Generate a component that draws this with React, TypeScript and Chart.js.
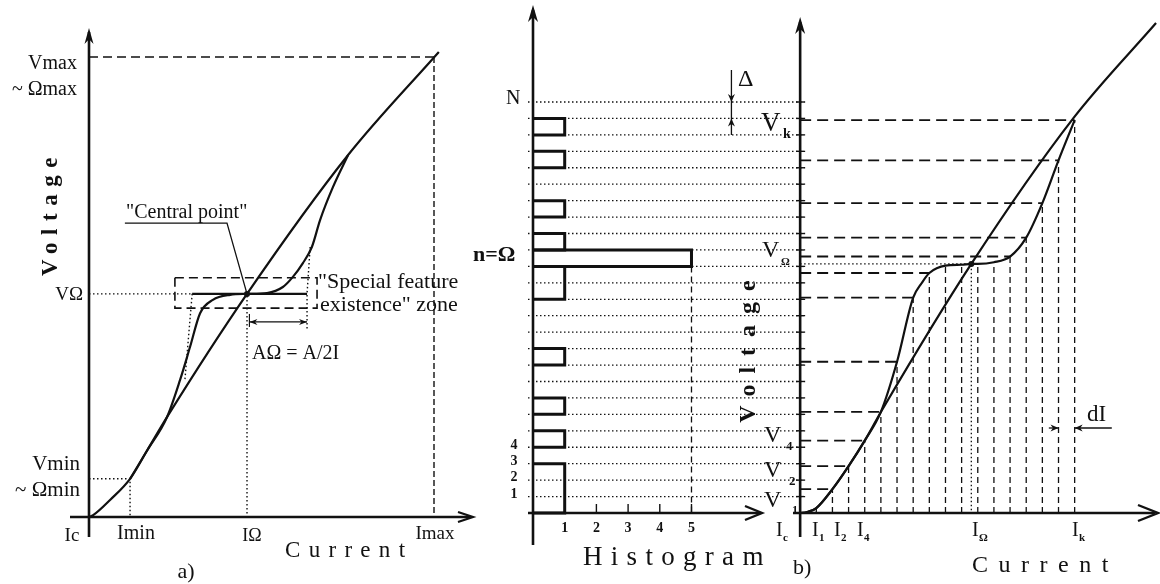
import React, { useEffect, useRef } from "react";
import { Chart, registerables } from "chart.js";

Chart.register(...registerables);

const W = 1160;
const H = 584;
const INK = "#111";
const SERIF = '"Liberation Serif", "Times New Roman", serif';

// ---------------- a) Voltage vs Current ----------------
const aCurveI = [0, 0.12, 0.61, 1.19, 1.68, 2.26, 2.64, 2.93, 3.22, 3.59, 4.09, 4.58, 5.16, 5.62, 5.91, 6.2, 6.46, 6.7, 7.07, 7.51];
const aCurveV = [0, 0.04, 0.37, 0.83, 1.44, 2.17, 2.98, 3.7, 4.43, 4.72, 4.83, 4.85, 4.87, 5.0, 5.22, 5.52, 5.87, 6.46, 7.17, 7.87];
const aLineI = [1.19, 1.68, 2.26, 4.58, 7.51, 10.14];
const aLineV = [0.83, 1.44, 2.17, 4.85, 7.87, 10.11];
const aIOmega = 4.58;
const aVOmega = 4.85;
const aImin = 1.19;
const aVmin = 0.83;
const aImax = 10;
const aVmax = 10;
const aFlatI = [2.99, 6.32];
const aZoneI = [2.49, 6.61];
const aZoneV = [4.54, 5.2];
const aAOmegaI = [4.65, 6.32];
const aAOmegaV = 4.24;
const aLeftTanI = [2.99, 2.78];
const aLeftTanV = [4.85, 2.98];
const aRightTanI = [6.41, 6.32, 6.32];
const aRightTanV = [5.87, 4.85, 4.07];
const aLeaderI = [1.04, 4.0, 4.58];
const aLeaderV = [6.39, 6.39, 4.85];

// ---------------- Histogram ----------------
const histCounts = [1, 1, 1, 0, 1, 0, 1, 0, 0, 1, 0, 0, 0, 1, 1, 5, 1, 0, 1, 0, 0, 1, 0, 1, 0];
const histN = 25;
const histXTicks = ["1", "2", "3", "4", "5"];
const histLevelLabels = ["1", "2", "3", "4"];

// ---------------- b) sampled Voltage vs Current ----------------
const bSampleI = [1, 2, 3, 4, 5, 6, 7, 8, 9, 10, 11, 12, 13, 14, 15, 16, 17];
const bSampleV = [0.3, 1.45, 2.85, 4.4, 6.15, 9.2, 13.1, 14.6, 15.05, 15.1, 15.15, 15.25, 15.6, 16.75, 18.85, 21.45, 23.9];
const bProjected = [2, 3, 4, 5, 6, 7, 8, 13, 14, 15, 16, 17];
const bCurveI = [0, 0.5, 1, 2, 3, 4, 5, 6, 7, 7.53, 8, 9, 10, 10.6, 11, 12, 13, 14, 15, 16, 17];
const bCurveV = [0, 0.08, 0.3, 1.45, 2.85, 4.4, 6.15, 9.2, 13.1, 13.99, 14.6, 15.05, 15.1, 15.15, 15.15, 15.25, 15.6, 16.75, 18.85, 21.45, 23.9];
const bLineI = [0.3, 1, 2, 3, 4, 5, 10.6, 16.91, 22.04];
const bLineV = [0, 0.3, 1.45, 2.85, 4.4, 6.14, 15.15, 24.0, 29.8];
const bIOmega = 10.6;
const bVOmega = 15.15;
const bDeltaX = 6.26;
const bDIV = 5.17;

type P = [number, number];
const zip = (xs: number[], ys: number[]): P[] => xs.map((x, i) => [x, ys[i]] as P);

const ds = (pts: P[], o: any = {}) => ({
  data: pts.map(([x, y]) => ({ x, y })),
  borderColor: INK,
  backgroundColor: INK,
  borderWidth: 1.4,
  pointRadius: 0,
  tension: 0,
  fill: false,
  clip: false,
  ...o,
});

const DOT = [1.5, 2.5];

function txt(ctx: any, s: string, x: number, y: number, size: number, o: any = {}) {
  ctx.save();
  ctx.fillStyle = INK;
  ctx.font = `${o.weight || "normal"} ${size}px ${SERIF}`;
  ctx.textAlign = o.align || "left";
  ctx.textBaseline = o.baseline || "alphabetic";
  if (o.spacing) ctx.letterSpacing = `${o.spacing}px`;
  ctx.translate(x, y);
  if (o.rot) ctx.rotate(o.rot);
  ctx.fillText(s, 0, 0);
  ctx.restore();
}

function chevron(ctx: any, x: number, y: number, ang: number, len: number, half: number, lw = 2.2) {
  ctx.save();
  ctx.translate(x, y);
  ctx.rotate(ang);
  ctx.beginPath();
  ctx.moveTo(-len, -half);
  ctx.lineTo(0, 0);
  ctx.lineTo(-len, half);
  ctx.lineWidth = lw;
  ctx.strokeStyle = INK;
  ctx.setLineDash([]);
  ctx.stroke();
  ctx.restore();
}

function head(ctx: any, x: number, y: number, ang: number, len: number, half: number) {
  ctx.save();
  ctx.translate(x, y);
  ctx.rotate(ang);
  ctx.beginPath();
  ctx.moveTo(0, 0);
  ctx.lineTo(-len, -half);
  ctx.lineTo(-len * 0.7, 0);
  ctx.lineTo(-len, half);
  ctx.closePath();
  ctx.fillStyle = INK;
  ctx.fill();
  ctx.restore();
}

function seg(ctx: any, x1: number, y1: number, x2: number, y2: number, lw: number, dash: number[] = []) {
  ctx.save();
  ctx.beginPath();
  ctx.moveTo(x1, y1);
  ctx.lineTo(x2, y2);
  ctx.lineWidth = lw;
  ctx.strokeStyle = INK;
  ctx.setLineDash(dash);
  ctx.stroke();
  ctx.restore();
}

const UP = -Math.PI / 2;
const DOWN = Math.PI / 2;
const RIGHT = 0;
const LEFT = Math.PI;

const panelAPlugin = {
  id: "panelA",
  afterDraw(chart: any) {
    const ctx = chart.ctx;
    const X = (v: number) => chart.scales.x.getPixelForValue(v);
    const Y = (v: number) => chart.scales.y.getPixelForValue(v);
    const ox = X(0);
    const oy = Y(0);
    // axes
    seg(ctx, ox, oy + 20, ox, 32, 2.6);
    head(ctx, ox, 28, UP, 16, 4.5);
    seg(ctx, 70, oy, 470, oy, 2.6);
    chevron(ctx, 473, oy, RIGHT, 15, 5, 2.2);
    // A-omega arrow heads and tick
    head(ctx, X(aAOmegaI[0]), Y(aAOmegaV), LEFT, 8, 3);
    head(ctx, X(aAOmegaI[1]), Y(aAOmegaV), RIGHT, 8, 3);
    seg(ctx, X(aAOmegaI[0]), Y(aAOmegaV) - 8, X(aAOmegaI[0]), Y(aAOmegaV) + 5, 1.2);

    // labels
    txt(ctx, "Vmax", 77, 69, 20, { align: "right" });
    txt(ctx, "~ \u03A9max", 77, 95, 20, { align: "right" });
    txt(ctx, "Voltage", 57, 213, 23, { weight: "bold", spacing: 7.5, rot: -Math.PI / 2, align: "center" });
    txt(ctx, "V\u03A9", 83, 300, 19, { align: "right" });
    txt(ctx, "Vmin", 80, 470, 21, { align: "right" });
    txt(ctx, "~ \u03A9min", 80, 496, 21, { align: "right" });
    txt(ctx, "Ic", 72, 541, 19, { align: "center" });
    txt(ctx, "Imin", 136, 539, 20, { align: "center" });
    txt(ctx, "I\u03A9", 252, 541, 18, { align: "center" });
    txt(ctx, "Imax", 435, 539, 19, { align: "center" });
    txt(ctx, "Current", 285, 557, 23, { spacing: 8.3 });
    txt(ctx, "a)", 186, 578, 22, { align: "center" });
    txt(ctx, "\"Central point\"", 126, 218, 20);
    txt(ctx, "\"Special feature", 318, 288, 22);
    txt(ctx, "existence\" zone", 320, 311, 22);
    txt(ctx, "A\u03A9 = A/2I", 252, 359, 20);
  },
};

const panelBPlugin = {
  id: "panelB",
  beforeDatasetsDraw(chart: any) {
    const ctx = chart.ctx;
    const X = (v: number) => chart.scales.x.getPixelForValue(v);
    const X2 = (v: number) => chart.scales.x2.getPixelForValue(v);
    const Y = (v: number) => chart.scales.y.getPixelForValue(v);
    // dotted level grid across histogram and panel b
    for (let lev = 1; lev <= histN; lev++) {
      seg(ctx, X(0) - 5, Y(lev), X2(0) + 5, Y(lev), 1.3, DOT);
    }
  },
  afterDraw(chart: any) {
    const ctx = chart.ctx;
    const X = (v: number) => chart.scales.x.getPixelForValue(v);
    const X2 = (v: number) => chart.scales.x2.getPixelForValue(v);
    const Y = (v: number) => chart.scales.y.getPixelForValue(v);
    const hx = X(0);
    const bx = X2(0);
    const oy = Y(0);
    // histogram axes
    seg(ctx, hx, oy + 32, hx, 10, 2.6);
    head(ctx, hx, 5, UP, 17, 5);
    seg(ctx, hx - 5, oy, 760, oy, 2.6);
    chevron(ctx, 762, oy, RIGHT, 17, 7, 2.4);
    for (let k = 2; k <= 5; k++) seg(ctx, X(k), oy - 9, X(k), oy, 1.4);
    // panel b axes
    seg(ctx, bx, oy + 24, bx, 22, 2.6);
    head(ctx, bx, 17, UP, 17, 5);
    seg(ctx, 793, oy, 1155, oy, 2.6);
    chevron(ctx, 1158, oy, RIGHT, 20, 8, 2.4);
    for (let lev = 1; lev <= histN; lev++) seg(ctx, bx - 4, Y(lev), bx + 4, Y(lev), 1.4);

    // delta arrows
    head(ctx, X(bDeltaX), Y(histN), DOWN, 8, 3.5);
    head(ctx, X(bDeltaX), Y(histN - 1), UP, 8, 3.5);
    // dI arrows
    head(ctx, X2(bSampleI[15]), Y(bDIV), RIGHT, 8, 3.5);
    head(ctx, X2(bSampleI[16]), Y(bDIV), LEFT, 8, 3.5);

    // histogram labels
    txt(ctx, "N", 506, 104, 20);
    txt(ctx, "n=\u03A9", 473, 261, 22, { weight: "bold" });
    const lvY = [494, 477, 461, 445];
    histLevelLabels.forEach((s, i) => txt(ctx, s, 514, lvY[i], 14, { weight: "bold", align: "center", baseline: "middle" }));
    histXTicks.forEach((s, i) => txt(ctx, s, X(i + 1), 528, 14, { weight: "bold", align: "center", baseline: "middle" }));
    txt(ctx, "Histogram", 583, 565, 27, { spacing: 8.3 });
    txt(ctx, "\u0394", 738, 86, 24);
    txt(ctx, "b)", 793, 574, 22);

    // panel b labels
    txt(ctx, "Voltage", 755, 346, 24, { weight: "bold", spacing: 11, rot: -Math.PI / 2, align: "center" });
    txt(ctx, "V", 761, 131, 27);
    txt(ctx, "k", 783, 138, 14, { weight: "bold" });
    txt(ctx, "V", 762, 257, 24);
    txt(ctx, "\u03A9", 781, 265, 11, { weight: "bold" });
    txt(ctx, "V", 764, 442, 24);
    txt(ctx, "4", 786, 450, 13, { weight: "bold" });
    txt(ctx, "V", 764, 477, 24);
    txt(ctx, "2", 789, 485, 13, { weight: "bold" });
    txt(ctx, "V", 764, 507, 24);
    txt(ctx, "1", 792, 514, 12, { weight: "bold" });
    const iLab: [string, number, string][] = [
      ["I", 776, "c"],
      ["I", 812, "1"],
      ["I", 834, "2"],
      ["I", 857, "4"],
      ["I", 972, "\u03A9"],
      ["I", 1072, "k"],
    ];
    iLab.forEach(([m, x, s]) => {
      txt(ctx, m, x, 536, 20);
      txt(ctx, s, x + 7, 541, 11, { weight: "bold" });
    });
    txt(ctx, "dI", 1087, 421, 23);
    txt(ctx, "Current", 972, 572, 24, { spacing: 10.5 });
  },
};

export default function App() {
  const refA = useRef<HTMLCanvasElement>(null);
  const refB = useRef<HTMLCanvasElement>(null);

  useEffect(() => {
    const common = {
      responsive: false,
      animation: false,
      devicePixelRatio: 1,
      events: [],
      plugins: { legend: { display: false }, tooltip: { enabled: false } },
    };

    const aDatasets = [
      ds([[0, aVmax], [aImax, aVmax]], { borderDash: [9, 5], borderWidth: 1.6 }),
      ds([[aImax, aVmax], [aImax, 0]], { borderDash: [6, 3], borderWidth: 1.4 }),
      ds([[0, aVOmega], [aIOmega, aVOmega], [aIOmega, 0]], { borderDash: DOT, borderWidth: 1.4 }),
      ds([[0, aVmin], [aImin, aVmin], [aImin, 0]], { borderDash: DOT, borderWidth: 1.4 }),
      ds(zip(aLeftTanI, aLeftTanV), { borderDash: DOT, borderWidth: 1.4 }),
      ds(zip(aRightTanI, aRightTanV), { borderDash: DOT, borderWidth: 1.4 }),
      ds(
        [[aZoneI[0], aZoneV[1]], [aZoneI[1], aZoneV[1]], [aZoneI[1], aZoneV[0]], [aZoneI[0], aZoneV[0]], [aZoneI[0], aZoneV[1]]],
        { borderDash: [9, 5], borderWidth: 1.6 }
      ),
      ds([[aFlatI[0], aVOmega], [aFlatI[1], aVOmega]], { borderWidth: 2.2 }),
      ds([[aAOmegaI[0], aAOmegaV], [aAOmegaI[1], aAOmegaV]], { borderWidth: 1.3 }),
      ds(zip(aLeaderI, aLeaderV), { borderWidth: 1.3 }),
      ds(zip(aCurveI, aCurveV), { borderWidth: 2.2, cubicInterpolationMode: "monotone" }),
      ds(zip(aLineI, aLineV), { borderWidth: 2.2, cubicInterpolationMode: "monotone" }),
      ds([[aIOmega, aVOmega]], { showLine: false, pointRadius: 3, pointBorderWidth: 0 }),
    ];

    const chartA = new Chart(refA.current as HTMLCanvasElement, {
      type: "line",
      data: { datasets: aDatasets as any },
      options: {
        ...common,
        layout: { padding: { left: 89, right: W - 434, top: 57, bottom: H - 517 } },
        scales: {
          x: { type: "linear", min: 0, max: 10, display: false },
          y: { type: "linear", min: 0, max: 10, display: false },
        },
      } as any,
      plugins: [panelAPlugin],
    });

    // histogram outline rectangles built from counts
    const histDs: any[] = [];
    let b = 0;
    while (b < histCounts.length) {
      const c = histCounts[b];
      if (!c) {
        b++;
        continue;
      }
      let e = b;
      while (e + 1 < histCounts.length && histCounts[e + 1] === c) e++;
      histDs.push(
        ds([[0, b], [c, b], [c, e + 1], [0, e + 1]], { borderWidth: 3, xAxisID: "x", borderJoinStyle: "miter" })
      );
      b = e + 1;
    }

    const bDatasets: any[] = [
      ...histDs,
      ds([[5, 15], [5, 0]], { borderDash: [6, 4], borderWidth: 1.3, xAxisID: "x" }),
      ds([[bDeltaX, histN + 1.95], [bDeltaX, histN - 2]], { borderWidth: 1.3, xAxisID: "x" }),
      ...bSampleI.map((I, i) =>
        ds([[I, 0], [I, bSampleV[i]]], { borderDash: [6, 4], borderWidth: 1.3, xAxisID: "x2" })
      ),
      ...bProjected.map((k) =>
        ds([[0, bSampleV[k - 1]], [bSampleI[k - 1], bSampleV[k - 1]]], {
          borderDash: [11, 6],
          borderWidth: 1.9,
          xAxisID: "x2",
        })
      ),
      ds([[0, bVOmega], [bIOmega, bVOmega], [bIOmega, 0]], { borderDash: DOT, borderWidth: 1.3, xAxisID: "x2" }),
      ds([[bSampleI[15] - 0.6, bDIV], [bSampleI[15], bDIV]], { borderWidth: 1.3, xAxisID: "x2" }),
      ds([[bSampleI[16], bDIV], [bSampleI[16] + 2.3, bDIV]], { borderWidth: 1.3, xAxisID: "x2" }),
      ds(zip(bCurveI, bCurveV), { borderWidth: 2.2, cubicInterpolationMode: "monotone", xAxisID: "x2" }),
      ds(zip(bLineI, bLineV), { borderWidth: 2.2, cubicInterpolationMode: "monotone", xAxisID: "x2" }),
      ds([[bIOmega, bVOmega]], { showLine: false, pointRadius: 3, pointBorderWidth: 0, xAxisID: "x2" }),
    ];

    const chartB = new Chart(refB.current as HTMLCanvasElement, {
      type: "line",
      data: { datasets: bDatasets },
      options: {
        ...common,
        layout: { padding: { left: 533, right: W - 1158, top: 102, bottom: H - 513 } },
        scales: {
          x: { type: "linear", axis: "x", min: 0, max: (1158 - 533) / 31.8, display: false },
          x2: { type: "linear", axis: "x", min: -(801 - 533) / 16.2, max: (1158 - 801) / 16.2, display: false },
          y: { type: "linear", min: 0, max: histN, display: false },
        },
      } as any,
      plugins: [panelBPlugin],
    });

    return () => {
      chartA.destroy();
      chartB.destroy();
    };
  }, []);

  return (
    <div style={{ position: "fixed", left: 0, top: 0, width: W, height: H, background: "#fff", overflow: "hidden" }}>
      <canvas ref={refA} width={W} height={H} style={{ position: "absolute", left: 0, top: 0 }} />
      <canvas ref={refB} width={W} height={H} style={{ position: "absolute", left: 0, top: 0 }} />
    </div>
  );
}
